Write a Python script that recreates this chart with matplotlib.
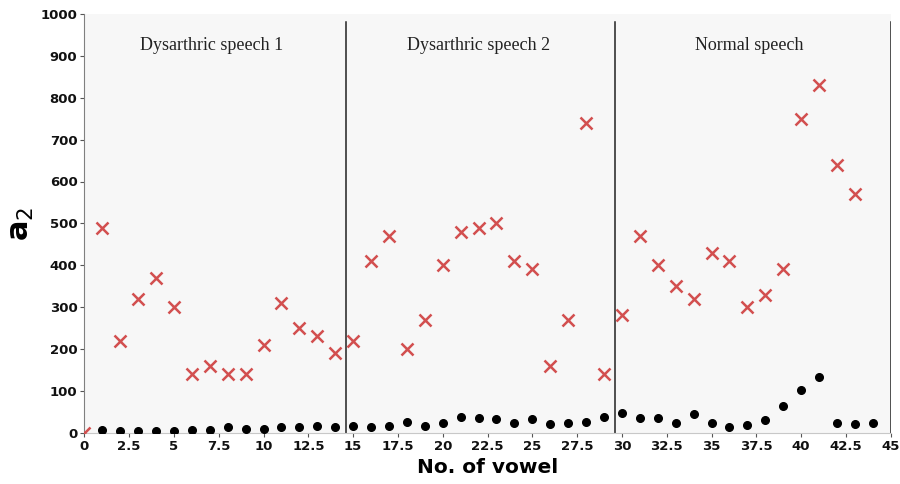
import matplotlib
matplotlib.use("Agg")
import matplotlib.pyplot as plt

# vowel index
vowel_red = list(range(0, 44))
a2_red = [0, 490, 220, 320, 370, 300, 140, 160, 140, 140, 210, 310, 250, 230, 190,
          220, 410, 470, 200, 270, 400, 480, 490, 500, 410, 390, 160, 270, 740, 140,
          280, 470, 400, 350, 320, 430, 410, 300, 330, 390, 750, 830, 640, 570]

vowel_black = list(range(1, 45))
a2_black = [7, 5, 5, 5, 3, 7, 7, 13, 10, 10, 13, 13, 16, 13,
            16, 13, 16, 26, 16, 24, 38, 36, 32, 22, 32, 21, 22, 26, 38,
            48, 36, 36, 24, 44, 22, 14, 18, 30, 64, 102, 132, 24, 20, 24]

section_names = ["Dysarthric speech 1", "Dysarthric speech 2", "Normal speech"]
section_bounds = [14.6, 29.6, 45]
section_label_x = [7.1, 22.0, 37.1]

x_ticks = [0, 2.5, 5, 7.5, 10, 12.5, 15, 17.5, 20, 22.5, 25, 27.5, 30, 32.5, 35, 37.5, 40, 42.5, 45]
x_tick_labels = ["0", "2.5", "5", "7.5", "10", "12.5", "15", "17.5", "20", "22.5", "25",
                 "27.5", "30", "32.5", "35", "37.5", "40", "42.5", "45"]
y_ticks = [0, 100, 200, 300, 400, 500, 600, 700, 800, 900, 1000]

plt.rcParams["mathtext.fontset"] = "dejavusans"

fig = plt.figure(figsize=(9, 4.84), dpi=100)
ax = fig.add_axes([0.0937, 0.106, 0.896, 0.865])
ax.set_facecolor("#f7f7f7")

ax.plot(vowel_black, a2_black, linestyle="none", marker="o", markersize=5.5,
        color="black", zorder=3)
ax.plot(vowel_red, a2_red, linestyle="none", marker="x", markersize=8,
        markeredgewidth=1.8, color="#d24f4f", zorder=4)

for b in section_bounds:
    ax.plot([b, b], [0, 980], color="#222222", linewidth=1.1, zorder=2)

for name, xc in zip(section_names, section_label_x):
    ax.text(xc, 925, name, ha="center", va="center", fontsize=13,
            family="Liberation Serif", color="#222222")

ax.set_xlim(0, 45)
ax.set_ylim(0, 1000)
ax.set_xticks(x_ticks)
ax.set_xticklabels(x_tick_labels)
ax.set_yticks(y_ticks)

for lbl in ax.get_xticklabels() + ax.get_yticklabels():
    lbl.set_fontweight("bold")
    lbl.set_fontsize(9.5)
    lbl.set_color("#111111")

ax.tick_params(axis="both", length=3, width=0.8, color="#555555", pad=2)

for side in ("top", "right"):
    ax.spines[side].set_visible(False)
ax.spines["left"].set_color("#808080")
ax.spines["bottom"].set_color("#c8c8c8")

ax.set_xlabel("No. of vowel", fontsize=14.5, fontweight="bold", labelpad=4)
ax.set_ylabel(r"$\mathbf{a}_{2}$", fontsize=22, labelpad=3)

fig.savefig("out.png", dpi=100, facecolor="white")
